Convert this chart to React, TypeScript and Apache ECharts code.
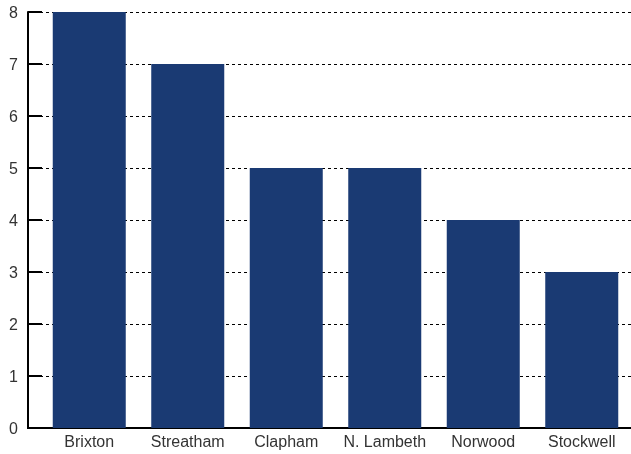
import React, { useEffect, useRef } from "react";
import * as echarts from "echarts";

const categories = ["Brixton", "Streatham", "Clapham", "N. Lambeth", "Norwood", "Stockwell"];
const values = [8, 7, 5, 5, 4, 3];
const yTicks = [0, 1, 2, 3, 4, 5, 6, 7, 8];

export default function App() {
  const ref = useRef<HTMLDivElement>(null);
  useEffect(() => {
    const chart = echarts.init(ref.current!, null, { renderer: "svg" });
    chart.setOption({
      animation: false,
      grid: { left: 40, right: 0, top: 12, bottom: 26, containLabel: false },
      xAxis: {
        type: "category",
        data: categories,
        axisLine: { show: true, lineStyle: { color: "#000", width: 2 } },
        axisTick: { show: false },
        axisLabel: { interval: 0, color: "#333", fontSize: 16, fontFamily: "Liberation Sans, Arial, sans-serif", margin: 5 },
      },
      yAxis: {
        type: "value",
        min: yTicks[0],
        max: yTicks[yTicks.length - 1],
        interval: 1,
        offset: 12,
        axisLine: { show: true, lineStyle: { color: "#000", width: 2 } },
        axisTick: { show: true, inside: true, length: 14, lineStyle: { color: "#000", width: 2 } },
        axisLabel: { color: "#333", fontSize: 16, fontFamily: "Liberation Sans, Arial, sans-serif", margin: 10 },
        splitLine: { show: true, lineStyle: { color: "#000", type: [3, 3], width: 1 } },
      },
      graphic: [
        {
          type: "line",
          shape: { x1: 27, y1: 428, x2: 41, y2: 428 },
          style: { stroke: "#000", lineWidth: 2 },
        },
      ],
      series: [
        {
          type: "bar",
          data: values,
          barWidth: 73,
          itemStyle: { color: "#1a3a73" },
        },
      ],
    });
    return () => chart.dispose();
  }, []);
  return <div ref={ref} style={{ position: "fixed", left: 0, top: 0, width: 631, height: 454 }} />;
}
